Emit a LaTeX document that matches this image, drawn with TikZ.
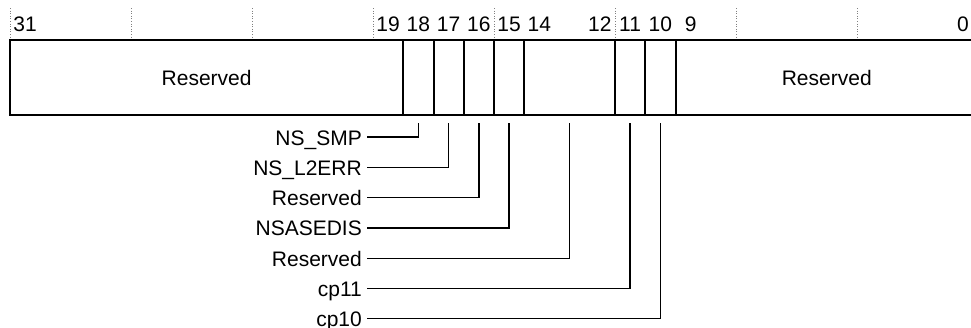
\documentclass[tikz,border=0pt]{standalone}
\usepackage{fontspec}
\setmainfont{Liberation Sans}
\begin{document}
\begin{tikzpicture}[x=1pt,y=-1pt,
  lbl/.style={font=\fontsize{21}{25}\selectfont, inner sep=0pt},
  bitlbl/.style={lbl, anchor=base},
  leadlbl/.style={lbl, anchor=east, inner xsep=5pt, text height=16pt, text depth=0pt},
  lead/.style={line width=1.3pt},
  regbox/.style={line width=2pt},
  divider/.style={line width=2pt},
  tick/.style={gray, dotted, line width=0.6pt}]
\useasboundingbox (0,0) rectangle (971,327);
% dotted ticks every 4 bits
\foreach \x in {10,131,252,373,494,615,736,857}
  \draw[tick] (\x,8) -- (\x,40);
% bit numbers
\node[bitlbl] (n31) at (25.125,31) {31};
\node[bitlbl] (n19) at (388.125,31) {19};
\node[bitlbl] (n18) at (418.375,31) {18};
\node[bitlbl] (n17) at (448.625,31) {17};
\node[bitlbl] (n16) at (478.875,31) {16};
\node[bitlbl] (n15) at (509.125,31) {15};
\node[bitlbl] (n14) at (539.375,31) {14};
\node[bitlbl] (n12) at (599.875,31) {12};
\node[bitlbl] (n11) at (630.125,31) {11};
\node[bitlbl] (n10) at (660.375,31) {10};
\node[bitlbl] (n9) at (690.625,31) {9};
\node[bitlbl] (n0) at (962.875,31) {0};
% register box
\draw[regbox] (10,40) rectangle (978,115);
\foreach \x in {403.25,433.5,463.75,494,524.25,615,645.25,675.5}
  \draw[divider] (\x,40) -- (\x,115);
\node[lbl] (resL) at (206.6,77.5) {Reserved};
\node[lbl] (resR) at (826.75,77.5) {Reserved};
% leader tops
\coordinate (f18) at (418.375,123);
\coordinate (f17) at (448.625,123);
\coordinate (f16) at (478.875,123);
\coordinate (f15) at (509.125,123);
\coordinate (f14) at (569.6,123);
\coordinate (f11) at (630.125,123);
\coordinate (f10) at (660.375,123);
% leader labels
\node[leadlbl] (l18) at (367,137) {NS\_SMP};
\node[leadlbl] (l17) at (367,167.3) {NS\_L2ERR};
\node[leadlbl] (l16) at (367,197.6) {Reserved};
\node[leadlbl] (l15) at (367,227.9) {NSASEDIS};
\node[leadlbl] (l14) at (367,258.2) {Reserved};
\node[leadlbl] (l11) at (367,288.5) {cp11};
\node[leadlbl] (l10) at (367,318.8) {cp10};
% leaders
\draw[lead] (f18) |- (l18.east);
\draw[lead] (f17) |- (l17.east);
\draw[lead] (f16) |- (l16.east);
\draw[lead] (f15) |- (l15.east);
\draw[lead] (f14) |- (l14.east);
\draw[lead] (f11) |- (l11.east);
\draw[lead] (f10) |- (l10.east);
\end{tikzpicture}
\end{document}
